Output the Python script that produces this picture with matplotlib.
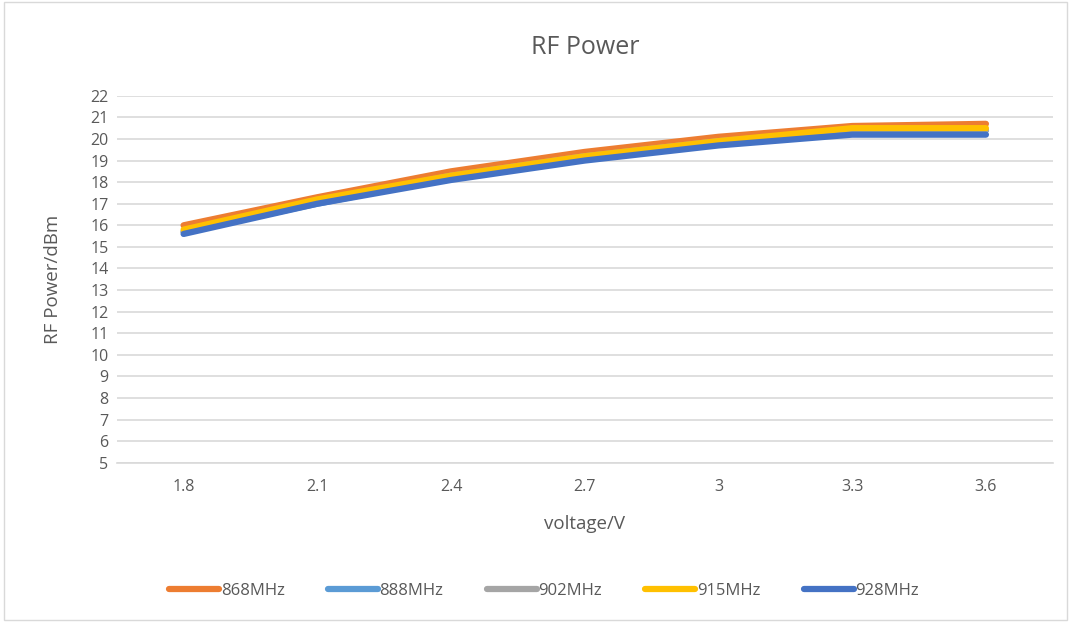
import matplotlib.pyplot as plt
import matplotlib.patches as patches

voltages = ["1.8", "2.1", "2.4", "2.7", "3", "3.3", "3.6"]
freqs = ["868MHz", "888MHz", "902MHz", "915MHz", "928MHz"]
p868 = [16.0, 17.3, 18.5, 19.4, 20.1, 20.6, 20.7]
p888 = [15.7, 17.0, 18.2, 19.1, 19.8, 20.4, 20.4]
p902 = [15.7, 17.1, 18.3, 19.2, 19.9, 20.4, 20.4]
p915 = [15.8, 17.2, 18.3, 19.2, 19.9, 20.5, 20.5]
p928 = [15.6, 17.0, 18.1, 19.0, 19.7, 20.2, 20.2]
colors = ["#ED7D31", "#5B9BD5", "#A5A5A5", "#FFC000", "#4472C4"]

plt.rcParams["font.family"] = ["Open Sans", "DejaVu Sans"]
grey = "#595959"

fig = plt.figure(figsize=(10.71, 6.22), dpi=100)
ax = fig.add_axes([0.109, 0.256, 0.874, 0.59])

# outer frame of the chart
fig.patches.append(patches.Rectangle((0.004, 0.004), 0.992, 0.992, transform=fig.transFigure,
                                     fill=False, edgecolor="#D9D9D9", linewidth=1))

x = range(len(voltages))
for vals, c, lab in zip([p868, p888, p902, p915, p928], colors, freqs):
    ax.plot(x, vals, color=c, linewidth=4.5, solid_capstyle="round", label=lab)

ax.set_xlim(-0.5, len(voltages) - 0.5)
ax.set_ylim(5, 22)
ax.set_yticks(range(5, 23))
ax.set_xticks(list(x))
ax.set_xticklabels(voltages)
ax.grid(axis="y", color="#D9D9D9", linewidth=1.2)
ax.set_axisbelow(True)
for s in ["top", "right", "left"]:
    ax.spines[s].set_visible(False)
ax.spines["bottom"].set_color("#D9D9D9")
ax.spines["bottom"].set_linewidth(1.2)
ax.tick_params(length=0, colors=grey, labelsize=11.5)
ax.tick_params(axis="y", pad=6)
ax.tick_params(axis="x", pad=12)

ax.set_title("RF Power", fontsize=18, color=grey, pad=30)
ax.set_xlabel("voltage/V", fontsize=13.5, color=grey, labelpad=14)
ax.set_ylabel("RF Power/dBm", fontsize=13.5, color=grey, labelpad=20)

fig.legend(loc="center", bbox_to_anchor=(0.508, 0.05), ncol=5, frameon=False,
           fontsize=12, labelcolor=grey, handlelength=3.0, handletextpad=0.1,
           columnspacing=2.6)

plt.savefig("out.png", dpi=100)
